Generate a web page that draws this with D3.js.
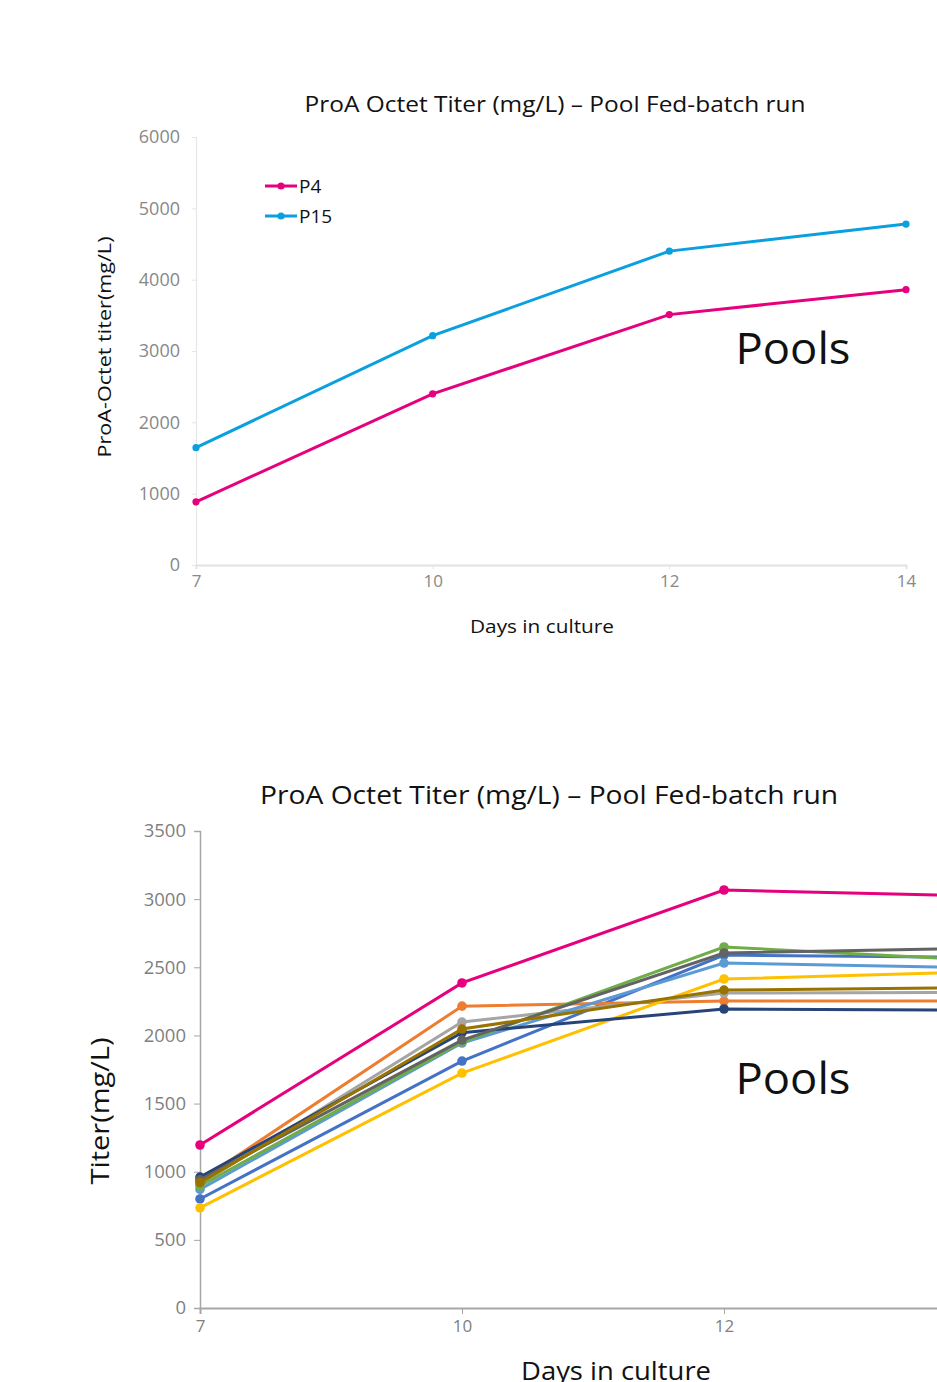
<!DOCTYPE html>
<html><head><meta charset="utf-8">
<script src="https://cdn.jsdelivr.net/npm/d3@7"></script>
<style>
html,body{margin:0;padding:0;background:#fff;overflow:hidden}
svg{display:block}
text{font-family:"Open Sans","Noto Sans",sans-serif}
</style></head>
<body>
<svg id="c" width="937" height="1382"></svg>
<script>
// ---------- Data: chart 1 ----------
const days = ["7", "10", "12", "14"];
const topYTicks = [0, 1000, 2000, 3000, 4000, 5000, 6000];
const p4 = [885, 2400, 3510, 3860];
const p15 = [1645, 3215, 4400, 4780];
const topSeriesNames = ["P4", "P15"];
const topColors = ["#E6007E", "#0AA0DF"];

// ---------- Data: chart 2 ----------
const bottomYTicks = [0, 500, 1000, 1500, 2000, 2500, 3000, 3500];
const poolColors = ["#4472C4","#ED7D31","#A5A5A5","#FFC000","#5B9BD5","#70AD47","#264478","#636363","#997300","#E6007E"];
const poolValues = [
  [800, 1812, 2590, 2572],   // blue
  [935, 2215, 2252, 2252],   // orange
  [910, 2098, 2311, 2315],   // gray
  [735, 1724, 2414, 2468],   // gold
  [870, 1944, 2531, 2495],   // light blue
  [895, 1952, 2649, 2549],   // green
  [960, 2020, 2194, 2185],   // navy
  [940, 1966, 2605, 2641],   // dark gray
  [920, 2047, 2333, 2351],   // olive
  [1196, 2385, 3067, 3021]   // magenta
];

const svg = d3.select("#c");
const fmt = d3.format("d");

function label(g, opts) {
  const t = g.append("text").text(opts.text)
    .style("font-size", opts.size + "px").attr("fill", "#111")
    .attr("text-anchor", "middle");
  if (opts.rotate) t.attr("transform", `translate(${opts.x},${opts.y}) rotate(-90)`);
  else t.attr("x", opts.x).attr("y", opts.y);
  if (opts.len) t.attr("textLength", opts.len).attr("lengthAdjust", "spacingAndGlyphs");
  return t;
}

// ================= Chart 1 =================
{
  const x = d3.scalePoint().domain(days).range([196, 906]).padding(0);
  const y = d3.scaleLinear().domain([0, 6000]).range([565, 137]);
  const g = svg.append("g");

  const ya = g.append("g").attr("transform", "translate(196,0)")
    .call(d3.axisLeft(y).tickValues(topYTicks).tickFormat(fmt).tickSize(4).tickPadding(12));
  ya.select(".domain").attr("stroke", "#e6e6e6").attr("stroke-width", 1.2);
  ya.selectAll(".tick line").attr("stroke", "#e6e6e6");
  ya.selectAll(".tick text").attr("fill", "#888").style("font-size", "18px");

  const xa = g.append("g").attr("transform", "translate(0,565)")
    .call(d3.axisBottom(x).tickSize(4).tickPadding(6));
  xa.select(".domain").attr("stroke", "#e2e2e2").attr("stroke-width", 2);
  xa.selectAll(".tick line").attr("stroke", "#e2e2e2");
  xa.selectAll(".tick text").attr("fill", "#888").style("font-size", "17px");

  const line = d3.line().x((d, i) => x(days[i])).y(d => y(d));
  [p4, p15].forEach((vals, k) => {
    g.append("path").datum(vals).attr("d", line).attr("fill", "none")
      .attr("stroke", topColors[k]).attr("stroke-width", 3);
    g.selectAll(null).data(vals).enter().append("circle")
      .attr("cx", (d, i) => x(days[i])).attr("cy", d => y(d)).attr("r", 3.6)
      .attr("fill", topColors[k]);
  });

  topSeriesNames.forEach((n, k) => {
    const ly = 186 + k * 30;
    g.append("line").attr("x1", 265).attr("x2", 297).attr("y1", ly).attr("y2", ly)
      .attr("stroke", topColors[k]).attr("stroke-width", 3);
    g.append("circle").attr("cx", 281).attr("cy", ly).attr("r", 3.6).attr("fill", topColors[k]);
    g.append("text").attr("x", 299).attr("y", ly + 7).text(n)
      .style("font-size", "19px").attr("fill", "#111");
  });

  label(g, {text: "ProA Octet Titer (mg/L) – Pool Fed-batch run", x: 555, y: 112, size: 21, len: 501});
  label(g, {text: "ProA-Octet titer(mg/L)", x: 111, y: 347, size: 19, len: 221, rotate: true});
  label(g, {text: "Days in culture", x: 542, y: 633, size: 19, len: 144});
  label(g, {text: "Pools", x: 793, y: 364, size: 44, len: 115});
}

// ================= Chart 2 =================
{
  const x = d3.scalePoint().domain(days).range([200, 986]).padding(0);
  const y = d3.scaleLinear().domain([0, 3500]).range([1308, 831]);
  const g = svg.append("g");

  const ya = g.append("g").attr("transform", "translate(200,0)")
    .call(d3.axisLeft(y).tickValues(bottomYTicks).tickFormat(fmt).tickSize(6).tickPadding(8));
  ya.select(".domain").attr("stroke", "#a6a6a6").attr("stroke-width", 1.5);
  ya.selectAll(".tick line").attr("stroke", "#a6a6a6");
  ya.selectAll(".tick text").attr("fill", "#7f7f7f").style("font-size", "18.5px");

  const xa = g.append("g").attr("transform", "translate(0,1308)")
    .call(d3.axisBottom(x).tickSize(6).tickPadding(6));
  xa.select(".domain").attr("stroke", "#a6a6a6").attr("stroke-width", 2);
  xa.selectAll(".tick line").attr("stroke", "#a6a6a6");
  xa.selectAll(".tick text").attr("fill", "#7f7f7f").style("font-size", "17px");

  const line = d3.line().x((d, i) => x(days[i])).y(d => y(d));
  poolValues.forEach((vals, k) => {
    g.append("path").datum(vals).attr("d", line).attr("fill", "none")
      .attr("stroke", poolColors[k]).attr("stroke-width", 3);
    g.selectAll(null).data(vals).enter().append("circle")
      .attr("cx", (d, i) => x(days[i])).attr("cy", d => y(d)).attr("r", 4.8)
      .attr("fill", poolColors[k]);
  });

  label(g, {text: "ProA Octet Titer (mg/L) – Pool Fed-batch run", x: 549, y: 804, size: 26, len: 578});
  label(g, {text: "Titer(mg/L)", x: 109, y: 1111, size: 26, len: 147, rotate: true});
  label(g, {text: "Days in culture", x: 616, y: 1380, size: 26, len: 190});
  label(g, {text: "Pools", x: 793, y: 1094, size: 44, len: 115});
}
</script>
</body></html>
